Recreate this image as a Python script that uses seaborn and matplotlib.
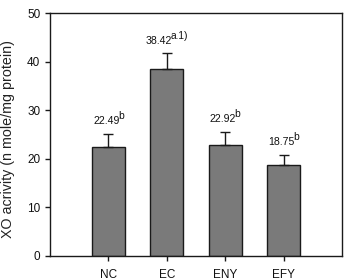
import matplotlib
matplotlib.use("Agg")
import matplotlib.pyplot as plt
import matplotlib.transforms as mtransforms
import seaborn as sns
import pandas as pd
import numpy as np

groups = ["NC", "EC", "ENY", "EFY"]
values = [22.49, 38.42, 22.92, 18.75]
errors = [2.6, 3.3, 2.6, 2.1]
labels = ["22.49", "38.42", "22.92", "18.75"]
sups = ["b", "a.1)", "b", "b"]

sns.set_theme(style="white")
plt.rcParams["font.family"] = ["Liberation Sans", "DejaVu Sans"]

df = pd.DataFrame({"group": groups, "value": values})
fig = plt.figure(figsize=(3.47, 2.80), dpi=100)
ax = fig.add_axes([50/347, 24/280, 292/347, 243/280])

sns.barplot(data=df, x="group", y="value", ax=ax, color="#7a7a7a",
            edgecolor="#1a1a1a", linewidth=1.0, width=0.56, saturation=1)
x = np.arange(len(groups))
ax.errorbar(x, values, yerr=[np.zeros(len(values)), errors], fmt="none",
            ecolor="#1a1a1a", elinewidth=1.0, capsize=3.5, capthick=1.0)

ax.set_xlim(-1.0, 4.0)
ax.set_ylim(0, 50)
ax.set_yticks([0, 10, 20, 30, 40, 50])
ax.set_xlabel("")
ax.set_ylabel("XO acrivity (n mole/mg protein)", fontsize=10.3,
              color="#222222")
ax.yaxis.set_label_coords(-0.12, 0.48)
for sp in ax.spines.values():
    sp.set_visible(True)
    sp.set_color("#1a1a1a")
    sp.set_linewidth(1.0)
ax.tick_params(axis="both", direction="out", length=3.5, width=1.0,
               color="#1a1a1a", labelsize=8.5, bottom=True, left=True,
               labelcolor="#111111")
ax.tick_params(axis="x", pad=5.5)
ax.tick_params(axis="y", pad=3.5)

renderer = fig.canvas.get_renderer()
for xi, v, e, lab, s in zip(x, values, errors, labels, sups):
    yb = v + e + 2.0
    t1 = ax.text(xi, yb, lab, ha="left", va="baseline", fontsize=7.6,
                 color="#111111")
    t2 = ax.text(xi, yb, s, ha="left", va="baseline", fontsize=7.4,
                 color="#111111")
    w1 = t1.get_window_extent(renderer).width
    w2 = t2.get_window_extent(renderer).width
    tot = w1 + w2 - 1.5
    t1.set_transform(mtransforms.offset_copy(ax.transData, fig=fig,
                                             x=-tot/2, y=0, units="dots"))
    t2.set_transform(mtransforms.offset_copy(ax.transData, fig=fig,
                                             x=-tot/2 + w1 - 1.5, y=5,
                                             units="dots"))

fig.savefig("out.png", dpi=100)
